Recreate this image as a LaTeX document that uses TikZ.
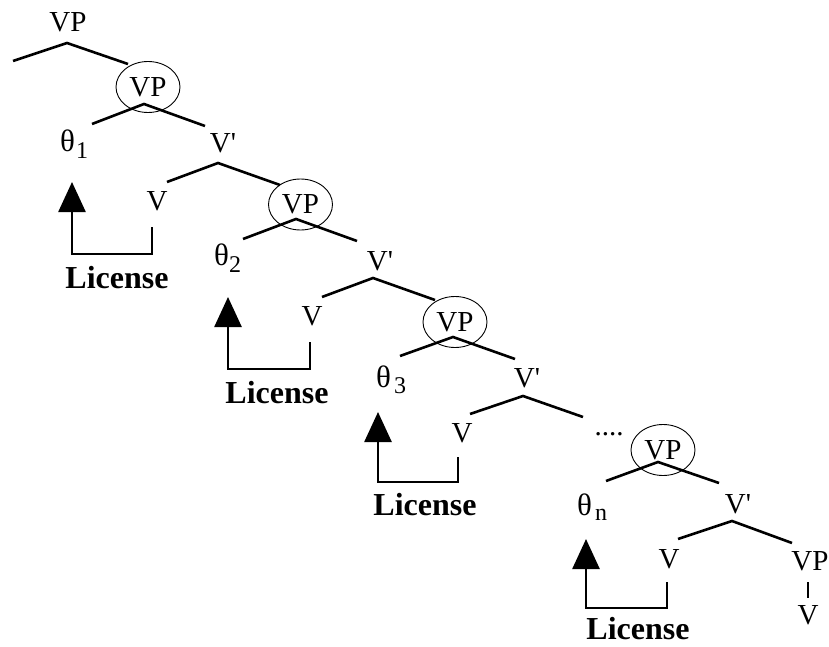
\documentclass[tikz,border=0pt]{standalone}
\usepackage{fontspec}
\setmainfont{Liberation Serif}
\usetikzlibrary{arrows.meta,shapes.geometric}

\newcommand{\labsize}{\fontsize{29}{29}\selectfont}
\newcommand{\thsym}{{\fontsize{31}{31}\selectfont θ}}
\newcommand{\subsz}[2]{\raisebox{-#1pt}{\fontsize{24}{24}\selectfont #2}}
\newcommand{\vbar}{V\textquotesingle}

\tikzset{
  lab/.style={inner sep=0pt, anchor=base, font=\labsize},
  thetalab/.style={inner sep=0pt, anchor=base west, font=\labsize},
  circ/.style={ellipse, draw, line width=0.9pt, inner sep=0pt,
               minimum width=64pt, minimum height=51pt, font=\labsize},
  branch/.style={line width=2.6pt},
  lic/.style={line width=2.6pt, line join=miter,
              -{Triangle[length=30pt,width=27pt]}},
  licname/.style={inner sep=0pt, anchor=base,
                  font=\fontsize{32}{32}\selectfont\bfseries},
}

\begin{document}
\begin{tikzpicture}[x=1pt,y=-1pt]
\useasboundingbox (0,0) rectangle (829,647);

% ---- topmost VP ----
\node[lab] (vp0) at (68,32) {VP};
\coordinate (a0) at (67,43);
\coordinate (l0) at (13,61);
\coordinate (r0) at (128,64);
\draw[branch] (l0) -- (a0) -- (r0);

% ---- level 1 ----
\node[circ] (c1) at (148,87) {VP};
\coordinate (a1) at (144,104);
\coordinate (l1) at (92,124);
\coordinate (r1) at (205,126);
\draw[branch] (l1) -- (a1) -- (r1);
\node[thetalab] (th1) at (60,152) {\thsym\kern1pt\subsz{7}{1}};
\node[lab] (vb1) at (223,153) {\vbar};
\coordinate (b1) at (218,163);
\coordinate (bl1) at (167,182);
\coordinate (br1) at (280,185);
\draw[branch] (bl1) -- (b1) -- (br1);
\node[lab] (v1) at (157,210) {V};
\coordinate (s1) at (152,227);
\coordinate (k1) at (72,254);
\coordinate (t1) at (72,182);
\draw[lic] (s1) |- (k1) -- (t1);
\node[licname] (L1) at (117,288) {License};

% ---- level 2 ----
\node[circ] (c2) at (300.5,204.5) {VP};
\coordinate (a2) at (296,219);
\coordinate (l2) at (243,239);
\coordinate (r2) at (357,241);
\draw[branch] (l2) -- (a2) -- (r2);
\node[thetalab] (th2) at (214,265) {\thsym\kern0pt\subsz{7}{2}};
\node[lab] (vb2) at (380,270) {\vbar};
\coordinate (b2) at (373,278);
\coordinate (bl2) at (322,297);
\coordinate (br2) at (435,300);
\draw[branch] (bl2) -- (b2) -- (br2);
\node[lab] (v2) at (312,325) {V};
\coordinate (s2) at (310,342);
\coordinate (k2) at (228,369);
\coordinate (t2) at (228,297);
\draw[lic] (s2) |- (k2) -- (t2);
\node[licname] (L2) at (277,403) {License};

% ---- level 3 ----
\node[circ] (c3) at (455,322) {VP};
\coordinate (a3) at (453,337);
\coordinate (l3) at (400,356);
\coordinate (r3) at (515,359);
\draw[branch] (l3) -- (a3) -- (r3);
\node[thetalab] (th3) at (376,387) {\thsym\kern3pt\subsz{6}{3}};
\node[lab] (vb3) at (527,387) {\vbar};
\coordinate (b3) at (523,396);
\coordinate (bl3) at (470,414);
\coordinate (br3) at (583,417);
\draw[branch] (bl3) -- (b3) -- (br3);
\node[lab] (v3) at (462,442) {V};
\coordinate (s3) at (458,457);
\coordinate (k3) at (378,482);
\coordinate (t3) at (378,412);
\draw[lic] (s3) |- (k3) -- (t3);
\node[licname] (L3) at (425,515) {License};
\node[lab] (dots) at (609,435) {....};

% ---- level n ----
\node[circ] (c4) at (663,450) {VP};
\coordinate (a4) at (658,462);
\coordinate (l4) at (606,481);
\coordinate (r4) at (719,483);
\draw[branch] (l4) -- (a4) -- (r4);
\node[thetalab] (th4) at (577,515) {\thsym\kern3pt\subsz{5}{n}};
\node[lab] (vb4) at (738,513) {\vbar};
\coordinate (b4) at (732,521);
\coordinate (bl4) at (678,539);
\coordinate (br4) at (792,543);
\draw[branch] (bl4) -- (b4) -- (br4);
\node[lab] (v4) at (669,568) {V};
\coordinate (s4) at (667,582);
\coordinate (k4) at (586,608);
\coordinate (t4) at (586,539);
\draw[lic] (s4) |- (k4) -- (t4);
\node[licname] (L4) at (638,639) {License};

% ---- final VP over V ----
\node[lab] (vp5) at (810,570) {VP};
\node[lab] (v5) at (808,624) {V};
\coordinate (u5) at (808,582);
\coordinate (d5) at (808,598);
\draw[line width=2.4pt] (u5) -- (d5);
\end{tikzpicture}
\end{document}
